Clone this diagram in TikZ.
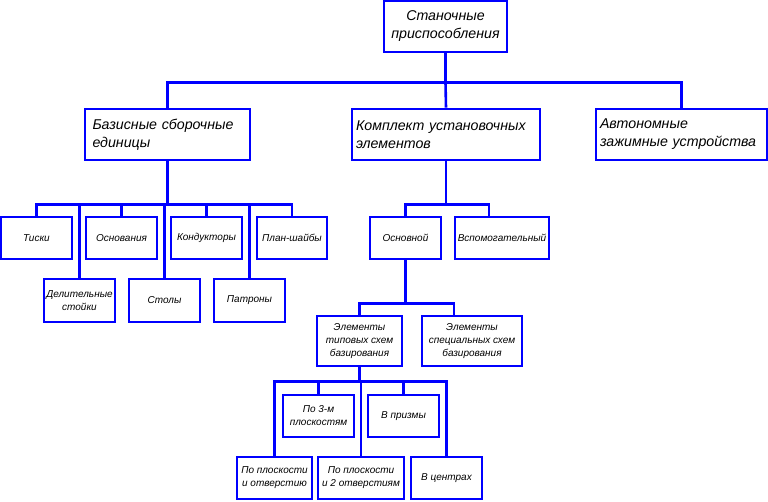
\documentclass[tikz,border=0pt]{standalone}
\usepackage{fontspec}
\setmainfont{Liberation Sans}
\usetikzlibrary{positioning}
\definecolor{chartblue}{RGB}{0,0,255}
\tikzset{
  box/.style={draw=chartblue,line width=2.6pt,rectangle,inner sep=0pt},
  bigtext/.style={font=\fontsize{14.2}{18}\selectfont\itshape},
  smalltext/.style={font=\fontsize{10}{13}\selectfont\itshape,align=center},
  link/.style={draw=chartblue,line width=2.6pt},
}
% name, x1, y1, x2, y2, style, text
\newcommand{\chartbox}[7]{%
  \node[box,#6,minimum width={(#4-#2)*1pt},minimum height={(#5-#3)*1pt}]
    (#1) at ({(#2+#4)/2},{(#3+#5)/2}) {#7};
}

\begin{document}
\begin{tikzpicture}[x=1pt,y=-1pt]
  \useasboundingbox (0,0) rectangle (768,501);
  % top levels
  \chartbox{top}{384}{1}{507}{52}{bigtext,align=center}{Станочные\\приспособления}
  \chartbox{bas}{85}{109}{250}{160}{bigtext,align=left,text width=150pt}{Базисные сборочные\\единицы}
  \chartbox{kom}{352}{109}{540}{160}{bigtext,align=left,text width=180pt}{Комплект установочных\\элементов}
  \chartbox{avt}{596}{109}{767}{160}{bigtext,align=left,text width=163pt}{Автономные\\зажимные устройства}
  % base units
  \chartbox{tis}{1}{217}{72}{259}{smalltext}{Тиски}
  \chartbox{osn}{86}{217}{157}{259}{smalltext}{Основания}
  \chartbox{kon}{171}{217}{242}{259}{smalltext}{Кондукторы}
  \chartbox{plan}{257}{217}{327}{259}{smalltext}{План-шайбы}
  \chartbox{del}{44}{279}{115}{322}{smalltext}{Делительные\\стойки}
  \chartbox{sto}{129}{279}{200}{322}{smalltext}{Столы}
  \chartbox{pat}{214}{279}{285}{322}{smalltext}{Патроны}
  % set elements
  \chartbox{osnv}{370}{217}{441}{259}{smalltext}{Основной}
  \chartbox{vsp}{455}{217}{549}{259}{smalltext}{Вспомогательный}
  \chartbox{tip}{317}{316}{402}{366}{smalltext}{Элементы\\типовых схем\\базирования}
  \chartbox{spec}{422}{316}{522}{366}{smalltext}{Элементы\\специальных схем\\базирования}
  \chartbox{p3m}{283}{395}{354}{437}{smalltext}{По 3-м\\плоскостям}
  \chartbox{prz}{368}{395}{439}{437}{smalltext}{В призмы}
  \chartbox{ppo}{237}{457}{312}{499}{smalltext}{По плоскости\\и отверстию}
  \chartbox{pp2}{318}{457}{404}{499}{smalltext}{По плоскости\\и 2 отверстиям}
  \chartbox{cen}{411}{457}{482}{499}{smalltext}{В центрах}
  % connectors
  \draw[link] (top.south) -- ++(0,29) coordinate (bus0);
  \draw[link] (bas.north) |- (bus0) -| (avt.north);
  \draw[link] (bus0) -- (kom.north);
  \draw[link] (bas.south) -- ++(0,43) coordinate (bus1);
  \foreach \n in {tis,osn,kon,plan,del,sto,pat}
    \draw[link] (bus1) -| (\n.north);
  \draw[link] (kom.south) -- ++(0,43) coordinate (bus2);
  \draw[link] (bus2) -| (osnv.north);
  \draw[link] (bus2) -| ([xshift=-13pt]vsp.north);
  \draw[link] (osnv.south) -- ++(0,43) coordinate (bus3);
  \draw[link] (bus3) -| (tip.north);
  \draw[link] (bus3) -| ([xshift=-18pt]spec.north);
  \draw[link] (tip.south) -- ++(0,14) coordinate (bus4);
  \foreach \n in {ppo,p3m,pp2,prz,cen}
    \draw[link] (bus4) -| (\n.north);
\end{tikzpicture}
\end{document}
